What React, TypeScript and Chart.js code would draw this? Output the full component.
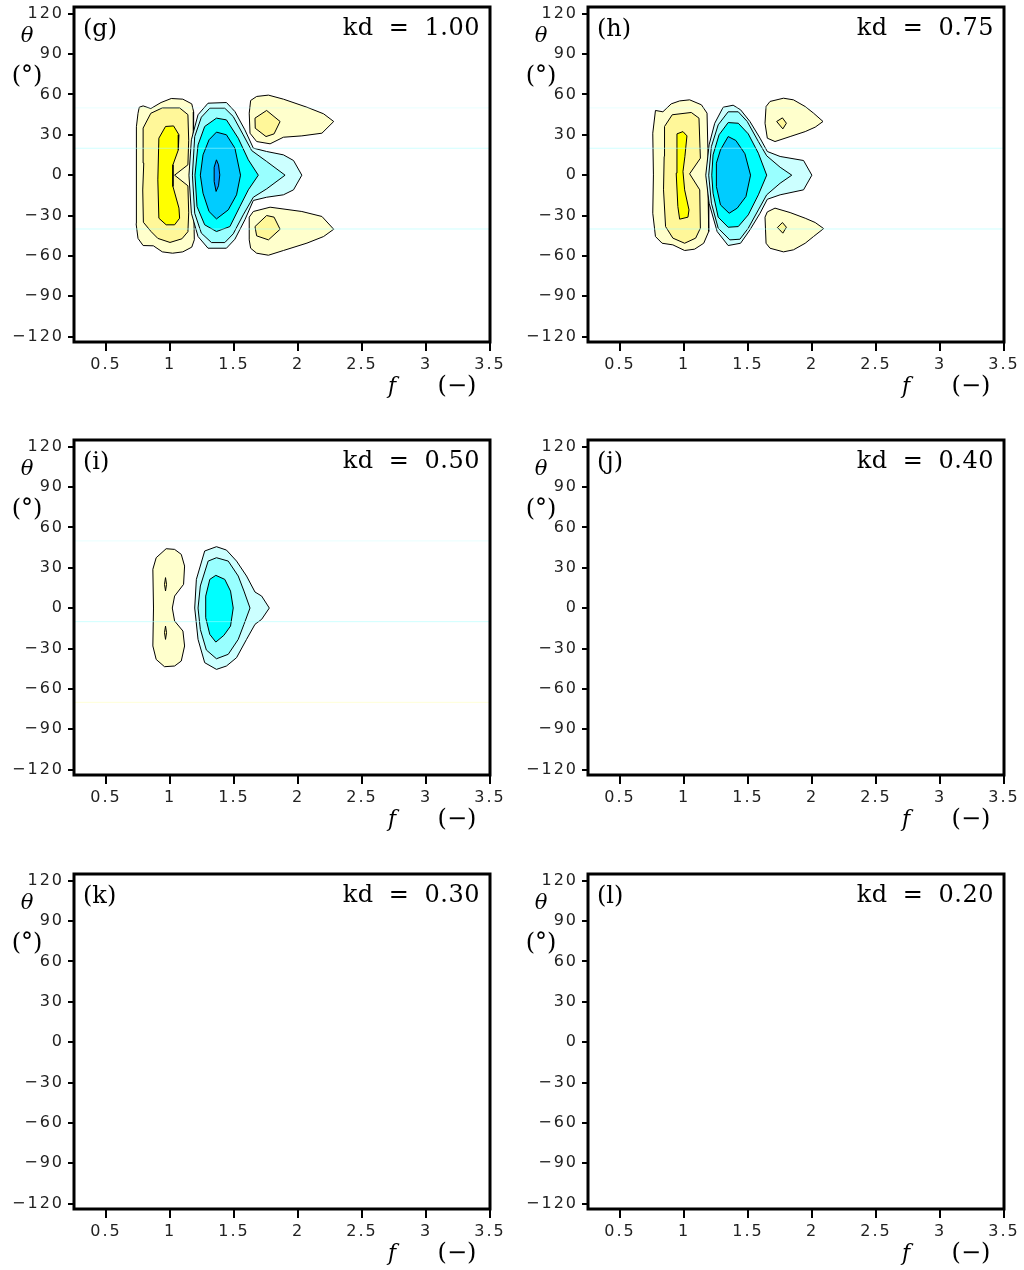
import React, { useEffect, useRef } from 'react';
import { Chart, registerables } from 'chart.js';

Chart.register(...registerables);

// ---------- axes ----------
const X_TICKS = [0.5, 1, 1.5, 2, 2.5, 3, 3.5];
const X_TICK_LABELS = ['0.5', '1', '1.5', '2', '2.5', '3', '3.5'];
const Y_TICKS = [120, 90, 60, 30, 0, -30, -60, -90, -120];
const Y_TICK_LABELS = ['120', '90', '60', '30', '0', '\u221230', '\u221260', '\u221290', '\u2212120'];
const X_MIN = 0.25;
const X_MAX = 3.5;
const Y_MIN = -124;
const Y_MAX = 125;

// ---------- panel texts ----------
const PANEL_LABELS = ['(g)', '(h)', '(i)', '(j)', '(k)', '(l)'];
const KD_VALUES = ['1.00', '0.75', '0.50', '0.40', '0.30', '0.20'];

// ---------- contour level colours ----------
const LEVEL_COLORS: Record<string, string> = {
  y1: '#FFFFCC',
  y2: '#FFF799',
  y3: '#FFFF00',
  b1: '#CCFFFF',
  b2: '#99FFFF',
  b3: '#00FFFF',
  b4: '#00CCFF',
  b5: '#0099FF',
};

type P = [number, number][];

// ---------- panel (g) kd = 1.00 : contour outlines [f, theta] ----------
const G_Y1: P = [[0.76,50.5],[0.79,51.5],[0.85,49.5],[0.93,54],[1.01,57],[1.10,56.5],[1.17,53],[1.185,47],[1.185,9],[1.18,-11],[1.19,-48],[1.17,-53.5],[1.10,-57],[1.02,-58],[0.94,-57],[0.87,-52.5],[0.79,-52.3],[0.75,-47],[0.735,-36],[0.74,-3.5],[0.735,36],[0.75,46]];
const G_Y2: P = [[0.79,35],[0.85,46],[0.94,50],[1.075,50],[1.14,45],[1.146,26],[1.14,7.7],[1.036,0],[1.14,-7.9],[1.146,-28],[1.14,-42],[1.093,-47.3],[1.0,-50],[0.905,-47],[0.853,-42],[0.792,-35],[0.787,-11],[0.795,9]];
const G_Y3: P = [[0.913,27.5],[0.965,36.2],[1.028,36.6],[1.07,30],[1.065,18.8],[1.023,7.7],[1.023,-8.4],[1.07,-24.5],[1.075,-32],[1.036,-36.9],[0.97,-36.9],[0.913,-32],[0.905,-3.5]];
const G_B1: P = [[1.297,53.5],[1.441,54],[1.507,47.3],[1.585,33.7],[1.651,20.1],[1.755,17.6],[1.886,15.1],[1.965,10.9],[2.03,0],[1.965,-10.9],[1.886,-14.6],[1.755,-16.4],[1.651,-18.8],[1.585,-33.2],[1.507,-47.6],[1.441,-54.3],[1.297,-54.3],[1.219,-45.6],[1.167,-28.3],[1.148,0],[1.167,26.3],[1.219,44.9]];
const G_B2: P = [[1.311,49.8],[1.428,49.8],[1.494,43.6],[1.572,30],[1.638,18.3],[1.755,10.2],[1.899,0],[1.755,-10.2],[1.651,-16.4],[1.572,-29.5],[1.494,-43.6],[1.428,-50.1],[1.324,-50.1],[1.245,-43.1],[1.193,-28.3],[1.175,0],[1.193,28.7],[1.245,43.1]];
const G_B3: P = [[1.363,42.4],[1.441,41.1],[1.533,27.5],[1.612,11.4],[1.69,0],[1.612,-10.9],[1.546,-23.3],[1.468,-38.2],[1.363,-41.9],[1.271,-36.9],[1.211,-23.3],[1.195,0],[1.219,22.5],[1.271,36.2]];
const G_B4: P = [[1.363,32],[1.441,30],[1.507,20.1],[1.551,0],[1.52,-14.6],[1.455,-25.8],[1.363,-32.5],[1.305,-27],[1.258,-13.4],[1.237,0],[1.258,15.1],[1.305,26.3]];
const G_B5: P = [[1.363,11.4],[1.379,7.7],[1.389,0.2],[1.379,-7.9],[1.36,-12.1],[1.345,-4.7],[1.345,5.9]];
const G_UP1: P = [[1.63,55.5],[1.677,58.5],[1.769,59.5],[1.886,56.5],[2.07,50.5],[2.2,45.6],[2.279,39.9],[2.187,31.2],[2.03,29.2],[1.886,28.2],[1.782,23.3],[1.677,25],[1.625,31.2],[1.619,46.1]];
const G_UP2: P = [[1.664,42.4],[1.755,48.1],[1.86,39.9],[1.813,30.7],[1.75,28.7],[1.666,34.9]];
const G_LO1: P = [[1.619,-31.2],[1.651,-27],[1.782,-23.8],[2.03,-27],[2.187,-30.7],[2.279,-40.2],[2.2,-45.6],[2.07,-50.5],[1.886,-56],[1.769,-59.5],[1.677,-58],[1.63,-54.3],[1.619,-48.1]];
const G_LO2: P = [[1.664,-38.2],[1.755,-30],[1.813,-31.2],[1.86,-40.2],[1.769,-48.1],[1.677,-45.1]];

// ---------- panel (h) kd = 0.75 ----------
const H_Y1: P = [[0.777,48.1],[0.835,47.1],[0.9,53],[0.966,55.2],[1.044,56],[1.136,52.3],[1.18,46.1],[1.188,13.9],[1.18,0.2],[1.188,-13.4],[1.193,-41.9],[1.154,-50.6],[1.083,-55],[1.005,-56],[0.913,-51.8],[0.829,-50.6],[0.777,-45.6],[0.756,-28.3],[0.761,0.2],[0.756,31.2]];
const H_Y2: P = [[0.848,36.2],[0.908,44.9],[1.057,46.6],[1.117,42.4],[1.128,12.6],[1.044,1],[1.123,-10.9],[1.128,-39.4],[1.091,-46.8],[1.005,-50.6],[0.913,-46.8],[0.856,-38.2],[0.84,-10.9],[0.845,13.9]];
const H_Y3: P = [[0.945,30.7],[0.992,32.4],[1.023,29.2],[1.007,13.9],[0.992,2.7],[1.005,-10.9],[1.039,-25.8],[1.031,-31.2],[0.966,-32.7],[0.952,-23.3],[0.939,1.5],[0.945,21.3]];
const H_B1: P = [[1.306,50.5],[1.384,52],[1.442,48.6],[1.515,39.9],[1.594,27.5],[1.651,17.6],[1.751,13.9],[1.934,10.9],[1.999,0],[1.934,-10.9],[1.751,-14.6],[1.651,-17.9],[1.594,-28.3],[1.515,-40.7],[1.442,-50.6],[1.345,-52.3],[1.259,-41.9],[1.196,-20.8],[1.17,0],[1.196,22.5],[1.24,38.6]];
const H_B2: P = [[1.345,47.1],[1.424,47.1],[1.494,39.9],[1.581,25],[1.646,14.4],[1.751,5.9],[1.842,0],[1.751,-6],[1.646,-14.6],[1.581,-25.8],[1.502,-39.4],[1.437,-47.6],[1.358,-48.1],[1.267,-39.4],[1.214,-20.8],[1.193,0],[1.214,21.3],[1.267,37.4]];
const H_B3: P = [[1.345,39.1],[1.424,38.6],[1.502,30.7],[1.581,16.3],[1.646,0],[1.581,-14.6],[1.502,-29.5],[1.424,-38.2],[1.345,-38.7],[1.267,-31.2],[1.227,-13.4],[1.217,0],[1.227,15.1],[1.274,30]];
const H_B4: P = [[1.345,28.7],[1.405,25.8],[1.476,15.9],[1.52,0],[1.484,-15.9],[1.416,-24.5],[1.353,-28.3],[1.285,-22.1],[1.253,-8.4],[1.253,8.9],[1.285,18.8]];
const H_UP1: P = [[1.641,51],[1.672,54.8],[1.777,57.2],[1.855,56],[1.947,51],[2.012,46.1],[2.086,39.9],[2.025,35.7],[1.947,32.4],[1.829,28.7],[1.711,25],[1.651,27.5],[1.633,38.6]];
const H_UP2: P = [[1.724,39.9],[1.769,42.6],[1.8,38.6],[1.772,34.4]];
const H_LO1: P = [[1.633,-31.2],[1.651,-27.3],[1.711,-24.5],[1.829,-27.8],[1.947,-32],[2.025,-35.2],[2.091,-39.7],[2.012,-45.6],[1.947,-50.6],[1.855,-55.5],[1.777,-57],[1.672,-54.3],[1.641,-50.6]];
const H_LO2: P = [[1.73,-38.9],[1.769,-35.2],[1.8,-38.7],[1.772,-43.1]];

// ---------- panel (i) kd = 0.50 ----------
const I_Y1: P = [[0.97,44.2],[1.036,43.7],[1.088,40],[1.114,31.3],[1.106,17.7],[1.036,9],[1.018,0.1],[1.036,-9.5],[1.101,-17],[1.114,-28.1],[1.088,-39.3],[1.036,-43],[0.957,-43.5],[0.892,-38.1],[0.866,-28.1],[0.871,0.1],[0.866,28.9],[0.892,37.5]];
const I_Y2A: P = [[0.965,22.7],[0.973,17.7],[0.965,12.8],[0.957,17.7]];
const I_Y2B: P = [[0.965,-13.3],[0.973,-18.2],[0.965,-23.2],[0.957,-18.2]];
const I_B1: P = [[1.271,42.5],[1.363,45.7],[1.441,43.2],[1.52,35],[1.598,23.9],[1.664,12],[1.716,9],[1.776,0.1],[1.716,-8.3],[1.664,-12],[1.598,-23.2],[1.52,-36.8],[1.441,-43],[1.363,-45.5],[1.271,-40.5],[1.219,-23.2],[1.193,0.1],[1.206,21.4]];
const I_B2: P = [[1.298,35],[1.363,37.5],[1.455,35],[1.533,23.9],[1.578,12.7],[1.625,0.1],[1.578,-12],[1.533,-23.2],[1.455,-34.3],[1.363,-37.6],[1.284,-31.1],[1.237,-15.8],[1.219,0.1],[1.237,16.5]];
const I_B3: P = [[1.311,21.4],[1.358,24.4],[1.428,21.4],[1.473,12.7],[1.494,0.1],[1.473,-13.3],[1.421,-20.2],[1.358,-25.2],[1.311,-19.5],[1.279,-7.1],[1.279,9]];

// faint horizontal rendering streaks visible in the original, [theta, kind]
const G_STREAKS: [number, string][] = [[50, 'faint'], [20, 'cyan'], [-40, 'cyan']];
const H_STREAKS: [number, string][] = [[50, 'faint'], [20, 'cyan'], [-40, 'cyan']];
const I_STREAKS: [number, string][] = [[50, 'faint'], [-10, 'cyan'], [-70, 'yellow']];

const STREAK_COLORS: Record<string, string> = {
  faint: 'rgba(190,255,255,0.35)',
  cyan: 'rgba(170,255,255,0.55)',
  yellow: 'rgba(255,255,190,0.6)',
};

type Poly = { level: string; pts: P };

const PANEL_POLYS: Poly[][] = [
  [
    { level: 'y1', pts: G_Y1 }, { level: 'y2', pts: G_Y2 }, { level: 'y3', pts: G_Y3 },
    { level: 'b1', pts: G_B1 }, { level: 'b2', pts: G_B2 }, { level: 'b3', pts: G_B3 },
    { level: 'b4', pts: G_B4 }, { level: 'b5', pts: G_B5 },
    { level: 'y1', pts: G_UP1 }, { level: 'y2', pts: G_UP2 },
    { level: 'y1', pts: G_LO1 }, { level: 'y2', pts: G_LO2 },
  ],
  [
    { level: 'y1', pts: H_Y1 }, { level: 'y2', pts: H_Y2 }, { level: 'y3', pts: H_Y3 },
    { level: 'b1', pts: H_B1 }, { level: 'b2', pts: H_B2 }, { level: 'b3', pts: H_B3 },
    { level: 'b4', pts: H_B4 },
    { level: 'y1', pts: H_UP1 }, { level: 'y2', pts: H_UP2 },
    { level: 'y1', pts: H_LO1 }, { level: 'y2', pts: H_LO2 },
  ],
  [
    { level: 'y1', pts: I_Y1 }, { level: 'y2', pts: I_Y2A }, { level: 'y2', pts: I_Y2B },
    { level: 'b1', pts: I_B1 }, { level: 'b2', pts: I_B2 }, { level: 'b3', pts: I_B3 },
  ],
  [], [], [],
];

const PANEL_STREAKS: [number, string][][] = [G_STREAKS, H_STREAKS, I_STREAKS, [], [], []];

const TICK_FONT = { family: '"DejaVu Sans", sans-serif', size: 16 };

const panelDecor = {
  id: 'panelDecor',
  beforeDraw(chart: any) {
    const ctx = chart.ctx as any;
    ctx.letterSpacing = '2px';
  },
  afterDraw(chart: any, _args: any, opts: any) {
    const ctx = chart.ctx as any;
    const a = chart.chartArea;
    ctx.save();
    ctx.letterSpacing = '0px';
    ctx.strokeStyle = '#000';
    ctx.lineWidth = 3;
    ctx.strokeRect(a.left, a.top, a.right - a.left, a.bottom - a.top);

    ctx.fillStyle = '#000';
    ctx.textBaseline = 'alphabetic';
    // panel letter
    ctx.textAlign = 'left';
    ctx.font = '24px "DejaVu Serif"';
    ctx.fillText(opts.label, a.left + 9, a.top + 29);
    // kd value
    ctx.textAlign = 'right';
    ctx.letterSpacing = '0.5px';
    ctx.wordSpacing = '7px';
    ctx.fillText('kd = ' + opts.kd, a.right - 10, a.top + 28);
    ctx.letterSpacing = '0px';
    ctx.wordSpacing = '0px';
    // y axis title
    ctx.textAlign = 'center';
    ctx.font = 'italic 21px "DejaVu Serif"';
    ctx.fillText('\u03B8', a.left - 47, a.top + 35);
    ctx.font = '24px "DejaVu Serif"';
    ctx.fillText('(\u00B0)', a.left - 47, a.top + 76);
    // x axis title
    ctx.font = 'italic 22px "DejaVu Serif"';
    ctx.fillText('f', a.left + 318, a.bottom + 51);
    ctx.font = '24px "DejaVu Serif"';
    ctx.fillText('(\u2212)', a.left + 383, a.bottom + 51);
    ctx.restore();
  },
};

function makeConfig(index: number): any {
  const datasets: any[] = [];
  const polys = PANEL_POLYS[index];
  const n = polys.length;
  polys.forEach((p, i) => {
    const closed = [...p.pts, p.pts[0]];
    datasets.push({
      data: closed.map(([x, y]) => ({ x, y })),
      borderColor: '#000',
      borderWidth: 1,
      backgroundColor: LEVEL_COLORS[p.level],
      fill: 'shape',
      pointRadius: 0,
      tension: 0,
      order: n - i + 10,
    });
  });
  PANEL_STREAKS[index].forEach(([t, kind]) => {
    datasets.push({
      data: [{ x: X_MIN, y: t }, { x: X_MAX, y: t }],
      borderColor: STREAK_COLORS[kind],
      borderWidth: 1,
      fill: false,
      pointRadius: 0,
      order: 1,
    });
  });

  return {
    type: 'line',
    data: { datasets },
    plugins: [panelDecor],
    options: {
      animation: false,
      responsive: false,
      devicePixelRatio: 1,
      events: [],
      layout: { padding: { left: 0, top: 7, right: 20, bottom: 0 } },
      plugins: {
        legend: { display: false },
        tooltip: { enabled: false },
        panelDecor: { label: PANEL_LABELS[index], kd: KD_VALUES[index] },
      },
      scales: {
        x: {
          type: 'linear',
          min: X_MIN,
          max: X_MAX,
          afterBuildTicks: (s: any) => { s.ticks = X_TICKS.map((v) => ({ value: v })); },
          afterFit: (s: any) => { s.height = 58; s.paddingLeft = 0; s.paddingRight = 0; },
          ticks: {
            autoSkip: false,
            maxRotation: 0,
            minRotation: 0,
            padding: 4,
            color: '#222',
            font: TICK_FONT,
            callback: (v: number) => X_TICK_LABELS[X_TICKS.indexOf(v)] ?? '',
          },
          grid: { drawOnChartArea: false, drawTicks: true, tickLength: 9, lineWidth: 2, color: '#000' },
          border: { display: false },
        },
        y: {
          type: 'linear',
          min: Y_MIN,
          max: Y_MAX,
          afterBuildTicks: (s: any) => { s.ticks = Y_TICKS.map((v) => ({ value: v })); },
          afterFit: (s: any) => { s.width = 74; s.paddingTop = 0; s.paddingBottom = 0; },
          ticks: {
            autoSkip: false,
            padding: 4,
            color: '#222',
            font: TICK_FONT,
            callback: (v: number) => Y_TICK_LABELS[Y_TICKS.indexOf(v)] ?? '',
          },
          grid: { drawOnChartArea: false, drawTicks: true, tickLength: 6, lineWidth: 2, color: '#000' },
          border: { display: false },
        },
      },
    },
  };
}

const COL_X = [0, 514];
const ROW_Y = [0, 433, 867];
const CANVAS_W = 510;
const CANVAS_H = 400;

function Panel({ index }: { index: number }) {
  const ref = useRef<HTMLCanvasElement>(null);
  useEffect(() => {
    const chart = new Chart(ref.current as HTMLCanvasElement, makeConfig(index));
    return () => chart.destroy();
  }, [index]);
  const left = COL_X[index % 2];
  const top = ROW_Y[Math.floor(index / 2)];
  return (
    <div style={{ position: 'absolute', left, top, width: CANVAS_W, height: CANVAS_H }}>
      <canvas ref={ref} width={CANVAS_W} height={CANVAS_H} style={{ display: 'block', width: CANVAS_W, height: CANVAS_H }} />
    </div>
  );
}

export default function App() {
  return (
    <div style={{ position: 'absolute', left: 0, top: 0, width: 1024, height: 1270, overflow: 'hidden', background: '#fff' }}>
      {PANEL_LABELS.map((_, i) => (
        <Panel key={i} index={i} />
      ))}
    </div>
  );
}
